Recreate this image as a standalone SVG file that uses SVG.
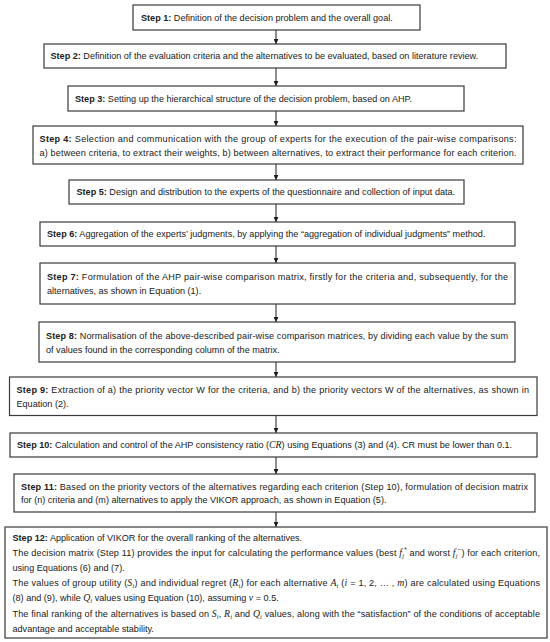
<svg xmlns="http://www.w3.org/2000/svg" width="550" height="642" viewBox="0 0 550 642">
<style>
.box{fill:#ffffff;stroke:#3a3a3a;stroke-width:1.2}
.t{font-family:"Liberation Sans",Arial,sans-serif;font-size:9.1px;fill:#202020}
.b{font-weight:bold}
.m{font-family:"Liberation Serif","Times New Roman",serif;font-style:italic;font-size:9.8px}
.s{font-size:6.4px}
.c{stroke:#1e1e1e;stroke-width:1;fill:none}
</style>
<defs>
<marker id="ah" viewBox="0 0 10 10" refX="10" refY="5" markerWidth="5" markerHeight="5" orient="auto" markerUnits="userSpaceOnUse">
<path d="M0,0 L10,5 L0,10 z" fill="#1e1e1e"/>
</marker>
</defs>
<rect width="550" height="642" fill="#ffffff"/>
<g id="connectors">
<line class="c" x1="276" y1="30" x2="276" y2="44" marker-end="url(#ah)"/>
<line class="c" x1="276" y1="68" x2="276" y2="86" marker-end="url(#ah)"/>
<line class="c" x1="276" y1="111" x2="276" y2="126" marker-end="url(#ah)"/>
<line class="c" x1="276" y1="164" x2="276" y2="180" marker-end="url(#ah)"/>
<line class="c" x1="276" y1="204" x2="276" y2="222" marker-end="url(#ah)"/>
<line class="c" x1="276" y1="246" x2="276" y2="263" marker-end="url(#ah)"/>
<line class="c" x1="276" y1="304" x2="276" y2="322" marker-end="url(#ah)"/>
<line class="c" x1="276" y1="362" x2="276" y2="377" marker-end="url(#ah)"/>
<line class="c" x1="276" y1="415.5" x2="276" y2="433" marker-end="url(#ah)"/>
<line class="c" x1="276" y1="457" x2="276" y2="474" marker-end="url(#ah)"/>
<line class="c" x1="276" y1="512" x2="276" y2="527" marker-end="url(#ah)"/>
</g>
<g id="step1">
<rect class="box" x="133" y="5" width="287" height="25"/>
<text class="t" x="141" y="20.7"><tspan class="b">Step 1:</tspan> Definition of the decision problem and the overall goal.</text>
</g>
<g id="step2">
<rect class="box" x="44" y="44" width="462" height="24"/>
<text class="t" x="50.5" y="59.2"><tspan class="b">Step 2:</tspan> Definition of the evaluation criteria and the alternatives to be evaluated, based on literature review.</text>
</g>
<g id="step3">
<rect class="box" x="68" y="86" width="396" height="25"/>
<text class="t" x="75" y="101.7"><tspan class="b">Step 3:</tspan> Setting up the hierarchical structure of the decision problem, based on AHP.</text>
</g>
<g id="step4">
<rect class="box" x="33" y="126" width="490" height="38"/>
<text class="t" x="39.5" y="141.5" textLength="477" lengthAdjust="spacing"><tspan class="b">Step 4:</tspan> Selection and communication with the group of experts for the execution of the pair-wise comparisons:</text>
<text class="t" x="39.5" y="155.5" textLength="477" lengthAdjust="spacing">a) between criteria, to extract their weights, b) between alternatives, to extract their performance for each criterion.</text>
</g>
<g id="step5">
<rect class="box" x="69" y="180" width="395" height="24"/>
<text class="t" x="76.5" y="195.2"><tspan class="b">Step 5:</tspan> Design and distribution to the experts of the questionnaire and collection of input data.</text>
</g>
<g id="step6">
<rect class="box" x="40" y="222" width="475" height="24"/>
<text class="t" x="47" y="237.2"><tspan class="b">Step 6:</tspan> Aggregation of the experts’ judgments, by applying the “aggregation of individual judgments” method.</text>
</g>
<g id="step7">
<rect class="box" x="40" y="263" width="475" height="41"/>
<text class="t" x="47" y="280" textLength="461" lengthAdjust="spacing"><tspan class="b">Step 7:</tspan> Formulation of the AHP pair-wise comparison matrix, firstly for the criteria and, subsequently, for the</text>
<text class="t" x="47" y="294">alternatives, as shown in Equation (1).</text>
</g>
<g id="step8">
<rect class="box" x="39" y="322" width="476" height="40"/>
<text class="t" x="46" y="339" textLength="462" lengthAdjust="spacing"><tspan class="b">Step 8:</tspan> Normalisation of the above-described pair-wise comparison matrices, by dividing each value by the sum</text>
<text class="t" x="46" y="353">of values found in the corresponding column of the matrix.</text>
</g>
<g id="step9">
<rect class="box" x="9.5" y="377" width="527.5" height="38.5"/>
<text class="t" x="16.5" y="392.5" textLength="512.5" lengthAdjust="spacing"><tspan class="b">Step 9:</tspan> Extraction of a) the priority vector W for the criteria, and b) the priority vectors W of the alternatives, as shown in</text>
<text class="t" x="16.5" y="406.5">Equation (2).</text>
</g>
<g id="step10">
<rect class="box" x="10" y="433" width="527" height="24"/>
<text class="t" x="17" y="448"><tspan class="b">Step 10:</tspan> Calculation and control of the AHP consistency ratio (<tspan class="m">CR</tspan>) using Equations (3) and (4). CR must be lower than 0.1.</text>
</g>
<g id="step11">
<rect class="box" x="14" y="474" width="521" height="38"/>
<text class="t" x="21" y="489.5" textLength="507" lengthAdjust="spacing"><tspan class="b">Step 11:</tspan> Based on the priority vectors of the alternatives regarding each criterion (Step 10), formulation of decision matrix</text>
<text class="t" x="21" y="503">for (n) criteria and (m) alternatives to apply the VIKOR approach, as shown in Equation (5).</text>
</g>
<g id="step12">
<rect class="box" x="5" y="527" width="542" height="111"/>
<text class="t" x="12.5" y="540.5"><tspan class="b">Step 12:</tspan> Application of VIKOR for the overall ranking of the alternatives.</text>
<text class="t" x="12.5" y="555.7" textLength="527.5" lengthAdjust="spacing">The decision matrix (Step 11) provides the input for calculating the performance values (best <tspan class="m">f</tspan><tspan class="m s" dy="2">j</tspan><tspan class="s" dy="-5.5">*</tspan><tspan dy="3.5"> and worst </tspan><tspan class="m">f</tspan><tspan class="m s" dy="2">j</tspan><tspan class="s" dy="-5.5">−</tspan><tspan dy="3.5">) for each criterion,</tspan></text>
<text class="t" x="12.5" y="570.9">using Equations (6) and (7).</text>
<text class="t" x="12.5" y="586.1" textLength="527.5" lengthAdjust="spacing">The values of group utility (<tspan class="m">S</tspan><tspan class="m s" dy="2">i</tspan><tspan dy="-2">) and individual regret (</tspan><tspan class="m">R</tspan><tspan class="m s" dy="2">i</tspan><tspan dy="-2">) for each alternative </tspan><tspan class="m">A</tspan><tspan class="m s" dy="2">i</tspan><tspan dy="-2"> (</tspan><tspan class="m">i</tspan> = 1, 2, … , <tspan class="m">m</tspan>) are calculated using Equations</text>
<text class="t" x="12.5" y="601.3">(8) and (9), while <tspan class="m">Q</tspan><tspan class="m s" dy="2">i</tspan><tspan dy="-2"> values using Equation (10), assuming </tspan><tspan class="m">v</tspan> = 0.5.</text>
<text class="t" x="12.5" y="616.5" textLength="527.5" lengthAdjust="spacing">The final ranking of the alternatives is based on <tspan class="m">S</tspan><tspan class="m s" dy="2">i</tspan><tspan dy="-2">, </tspan><tspan class="m">R</tspan><tspan class="m s" dy="2">i</tspan><tspan dy="-2"> and </tspan><tspan class="m">Q</tspan><tspan class="m s" dy="2">i</tspan><tspan dy="-2"> values, along with the “satisfaction” of the conditions of acceptable</tspan></text>
<text class="t" x="12.5" y="631.7">advantage and acceptable stability.</text>
</g>
</svg>
